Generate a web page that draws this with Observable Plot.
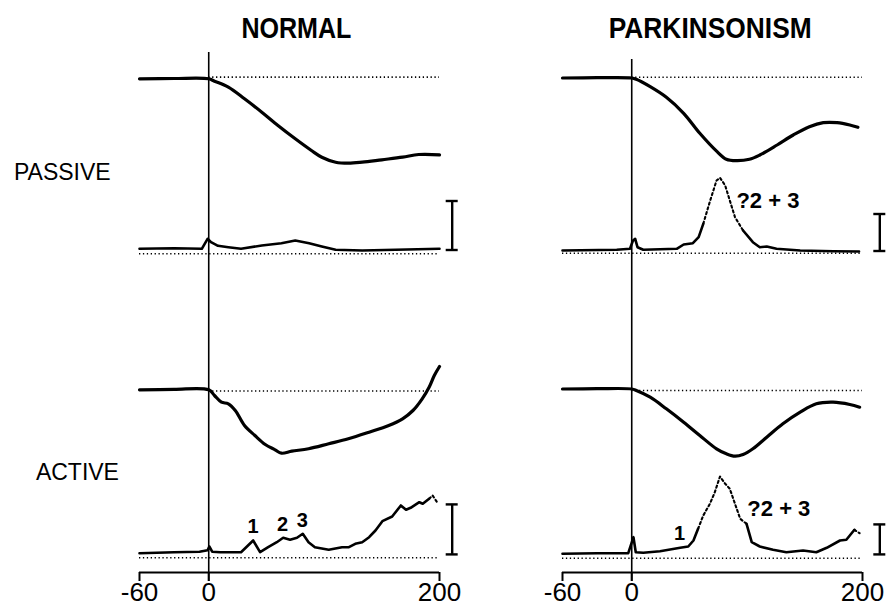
<!DOCTYPE html>
<html>
<head>
<meta charset="utf-8">
<script src="https://cdn.jsdelivr.net/npm/d3@7"></script>
<script src="https://cdn.jsdelivr.net/npm/@observablehq/plot@0.6"></script>
<style>
  html, body { margin: 0; padding: 0; background: #fff; }
</style>
</head>
<body>
<div id="chart"></div>
<script>
// ---------------- DATA ----------------
const groups = ["NORMAL", "PARKINSONISM"];
const rowLabels = ["PASSIVE", "ACTIVE"];
const tickValues = [-60, 0, 200];
const tickLabels = ["-60", "0", "200"];

// Traces: [time (ms), amplitude above own baseline (arbitrary units, up = positive)]
const normalPassivePos = [[-60,0],[-30,0.3],[0,0],[5,-2.4],[17,-8.4],[31,-20],[46,-33.4],[60,-46.7],[75,-60],[89,-71.7],[98,-78.4],[110,-83.4],[121,-84.4],[133,-83.4],[150,-81],[168,-78.4],[182,-75.7],[200,-76]];
const normalPassiveEmg = [[-60,0],[-30,0.5],[-6,0],[-1,10],[2,6.6],[8,3],[17,1.6],[28,0],[46,3.3],[63,5.6],[75,8.3],[87,5.6],[98,2.3],[110,-1],[133,-1.7],[162,-1],[200,0]];
const parkPassivePos = [[-60,0],[-30,0.3],[0,0],[4,-1.3],[16,-8.7],[30,-19.3],[45,-35.3],[59,-55.3],[74,-73.7],[82,-81.3],[91,-82.7],[102,-81.3],[111,-77],[126,-67],[140,-57],[154,-48.7],[166,-44.7],[178,-44.7],[189,-47],[196,-49.3]];
const parkPassiveEmg = [[-60,-0.7],[-13,0],[-1.5,1],[1,9],[3,11],[5,2.6],[10,0],[39,1],[45,5.3],[53,6.6],[58,12.6],[62,26],[68,49.3],[73.5,69.3],[76.5,72],[81,64.3],[85,49.3],[89.5,32.6],[96.5,19.3],[105,7.6],[111,2.6],[117,3.3],[125.5,1],[146,-0.7],[175,-1.4],[197,-1.7]];
const normalActivePos = [[-60,0],[-30,0.5],[0,0],[5,-5.7],[11,-12.4],[17,-14],[23,-20.7],[31,-35.7],[40,-45.7],[49,-54.7],[57.5,-60],[63,-63.4],[72,-61.4],[86.5,-59],[104,-54],[121,-49],[139,-42.4],[156,-35.7],[168,-29],[177,-20.7],[185,-9],[191,2.6],[195.5,14.3],[200,23.3]];
const normalActiveEmg = [[-60,0],[-30,1],[-8,1.5],[-1,3],[0.5,6.7],[3,1.5],[10,1],[17,1],[28,1],[38.5,12.7],[44.5,1],[51.5,6],[59,11],[64.5,15.4],[70.5,13.4],[76.5,15.4],[81.5,19.4],[86.5,11],[92,6],[104,3.4],[115.5,6],[121.5,6],[127,9.4],[133,11],[139,16],[144.5,22.7],[150.5,32],[159,36.7],[166.5,47.7],[171,43.4],[175,45.4],[182.5,51],[185.5,49.4],[191,54.4],[194,57.7],[198.5,50]];
const parkActivePos = [[-60,0],[-30,0.3],[0,0],[4,-1.5],[16,-8.2],[30,-19.8],[45,-33.2],[59,-46.5],[73.5,-59.8],[82,-64.8],[89.5,-67.2],[96.5,-65.5],[105,-59.8],[117,-48.2],[131,-34.8],[146,-23.2],[160,-14.8],[174.5,-13.2],[189,-15.5],[197.5,-18.2]];
const parkActiveEmg = [[-60,-0.6],[-30,0],[-3,0],[1.5,16],[3.5,1],[10,0.5],[24.5,2],[42,5.4],[49,6.7],[53.5,12.7],[57.5,24.4],[62,37.7],[68,50],[72,61],[76.5,76.7],[81,69.4],[85,64.4],[89.5,49.4],[94,34.4],[99.5,29.4],[104,11],[111,6.7],[122.5,3.4],[134,1],[148.5,2.7],[160,1],[169,5.4],[180.5,12.7],[186,13.4],[193,23.4],[197.5,20]];

// EMG calibration bar heights (same units as EMG amplitude)
const calibration = [49, 37, 50, 30]; // normal passive, park passive, normal active, park active

// Burst annotations: [time ms, amplitude, label]
const normalActiveBursts = [[38.5, 26.7, "1"], [64, 28.7, "2"], [81, 32.7, "3"]];
const parkPassiveBursts = [[118, 48.8, "?2 + 3"]];
const parkActiveBursts = [[41.4, 19.2, "1"], [127.5, 44.2, "?2 + 3"]];

// ---------------- LAYOUT (vertical stacking of traces) ----------------
const layout = {
  NORMAL: {
    passivePos: {base: 78.3, dot: 76.6}, passiveEmg: {base: 248.3, dot: 253.3},
    activePos: {base: 389.3, dot: 390.5}, activeEmg: {base: 552.7, dot: 557.3},
    zeroTop: 52, titleX: 76, barX: 211, titleWidth: 110
  },
  PARKINSONISM: {
    passivePos: {base: 77.5, dot: 76.7}, passiveEmg: {base: 249.3, dot: 252.8},
    activePos: {base: 388.5, dot: 390}, activeEmg: {base: 552.7, dot: 557.7},
    zeroTop: 59, titleX: 68, barX: 215, titleWidth: 203
  }
};
const axisY = 572, tickEnd = 581, tickLabelY = 592;
const titleY = 28;
const rowLabelPos = [{x: -168.8, y: 172.6}, {x: -149.8, y: 472.6}];

const traceDefs = [
  {group: "NORMAL", row: "passivePos", data: normalPassivePos},
  {group: "NORMAL", row: "passiveEmg", data: normalPassiveEmg},
  {group: "NORMAL", row: "activePos", data: normalActivePos},
  {group: "NORMAL", row: "activeEmg", data: normalActiveEmg, dashAfter: 190},
  {group: "PARKINSONISM", row: "passivePos", data: parkPassivePos},
  {group: "PARKINSONISM", row: "passiveEmg", data: parkPassiveEmg, dashAbove: 18},
  {group: "PARKINSONISM", row: "activePos", data: parkActivePos},
  {group: "PARKINSONISM", row: "activeEmg", data: parkActiveEmg, dashAbove: 18}
];

// split into runs so the fast, faint part of the traces is drawn dotted (as in the ink record)
const rows = [];
traceDefs.forEach((def, k) => {
  const base = layout[def.group][def.row].base;
  const isPos = def.row.endsWith("Pos");
  const pts = def.data;
  let run = -1, prev = null;
  for (let i = 0; i < pts.length - 1; i++) {
    const dashed = (def.dashAbove !== undefined && Math.min(pts[i][1], pts[i + 1][1]) > def.dashAbove)
      || (def.dashAfter !== undefined && pts[i][0] >= def.dashAfter);
    if (prev === null || prev !== dashed) {
      run++;
      rows.push({group: def.group, id: `${k}-${run}`, t: pts[i][0], y: base - pts[i][1], pos: isPos, dashed});
      prev = dashed;
    }
    rows.push({group: def.group, id: `${k}-${run}`, t: pts[i + 1][0], y: base - pts[i + 1][1], pos: isPos, dashed});
  }
});

const dotted = [];
groups.forEach(g => {
  ["passivePos", "passiveEmg", "activePos", "activeEmg"].forEach(r => {
    dotted.push({group: g, y: layout[g][r].dot, x1: r.endsWith("Pos") ? 0 : -60, x2: 200});
  });
});

const ticks = groups.flatMap(g => tickValues.map((v, i) => ({group: g, x: v, label: tickLabels[i]})));

const bars = [
  {group: "NORMAL", row: "passiveEmg", h: calibration[0]},
  {group: "PARKINSONISM", row: "passiveEmg", h: calibration[1]},
  {group: "NORMAL", row: "activeEmg", h: calibration[2]},
  {group: "PARKINSONISM", row: "activeEmg", h: calibration[3]}
].map(b => {
  const bottom = layout[b.group][b.row].base + 1.2;
  return {...b, x: layout[b.group].barX, bottom, top: bottom - b.h};
});
const barCaps = bars.flatMap(b => [{group: b.group, x: b.x, y: b.bottom}, {group: b.group, x: b.x, y: b.top}]);

const bursts = [
  ...normalActiveBursts.map(([t, a, s]) => ({group: "NORMAL", t, y: layout.NORMAL.activeEmg.base - a, s, size: 20})),
  ...parkPassiveBursts.map(([t, a, s]) => ({group: "PARKINSONISM", t, y: layout.PARKINSONISM.passiveEmg.base - a, s, size: 22})),
  ...parkActiveBursts.map(([t, a, s]) => ({group: "PARKINSONISM", t, y: layout.PARKINSONISM.activeEmg.base - a, s, size: s === "1" ? 20 : 22}))
];

const sans = "'Liberation Sans', Arial, Helvetica, sans-serif";

const chart = Plot.plot({
  width: 889,
  height: 606,
  marginLeft: 139, marginRight: 26, marginTop: 0, marginBottom: 0,
  fx: {domain: groups, paddingInner: 0.29, paddingOuter: 0, axis: null, label: null},
  x: {domain: [-60, 200], axis: null},
  y: {domain: [0, 606], range: [0, 606], axis: null},
  style: {background: "#fff", color: "#000", fontFamily: sans, overflow: "visible"},
  marks: [
    // dotted baselines
    Plot.ruleY(dotted, {fx: "group", y: "y", x1: "x1", x2: "x2", stroke: "#000", strokeWidth: 1.6, strokeDasharray: "1.3,2.6"}),
    // stimulus onset line
    Plot.ruleX(groups, {fx: d => d, x: 0, y1: d => layout[d].zeroTop, y2: tickEnd, stroke: "#000", strokeWidth: 1.6}),
    // position traces
    Plot.line(rows.filter(d => d.pos), {fx: "group", x: "t", y: "y", z: "id", stroke: "#000", strokeWidth: 3.2, curve: "catmull-rom"}),
    // EMG traces
    Plot.line(rows.filter(d => !d.pos && !d.dashed), {fx: "group", x: "t", y: "y", z: "id", stroke: "#000", strokeWidth: 2.6, strokeLinejoin: "round"}),
    Plot.line(rows.filter(d => !d.pos && d.dashed), {fx: "group", x: "t", y: "y", z: "id", stroke: "#000", strokeWidth: 2.1, strokeDasharray: "2.2,2.8"}),
    // calibration bars
    Plot.ruleX(bars, {fx: "group", x: "x", y1: "bottom", y2: "top", stroke: "#000", strokeWidth: 2.4}),
    Plot.ruleY(barCaps, {fx: "group", y: "y", x1: d => d.x - 5.2, x2: d => d.x + 5.2, stroke: "#000", strokeWidth: 2.4}),
    // burst labels
    Plot.text(bursts, {fx: "group", x: "t", y: "y", text: "s", fontSize: "size", fontWeight: "bold", fill: "#000"}),
    // time axis
    Plot.ruleY(groups, {fx: d => d, y: axisY, x1: -60, x2: 200, stroke: "#000", strokeWidth: 2}),
    Plot.ruleX(ticks, {fx: "group", x: "x", y1: axisY, y2: tickEnd, stroke: "#000", strokeWidth: 2}),
    Plot.text(ticks, {fx: "group", x: "x", y: tickLabelY, text: "label", fontSize: 26, fill: "#000"}),
    // column titles
    Plot.text(groups, {fx: d => d, x: d => layout[d].titleX, y: titleY, text: d => d, fontSize: 29, fontWeight: "bold", fill: "#000"}),
    // row labels
    Plot.text(rowLabels, {fx: () => "NORMAL", x: (d, i) => rowLabelPos[i].x, y: (d, i) => rowLabelPos[i].y, text: d => d, textAnchor: "start", fontSize: 23, fill: "#000"})
  ]
});

// condense the column titles to the narrow bold face of the original
d3.select(chart).selectAll("text").each(function () {
  const t = this.textContent;
  if (layout[t]) {
    d3.select(this).attr("textLength", layout[t].titleWidth).attr("lengthAdjust", "spacingAndGlyphs");
  }
});
document.getElementById("chart").appendChild(chart);
</script>
</body>
</html>
